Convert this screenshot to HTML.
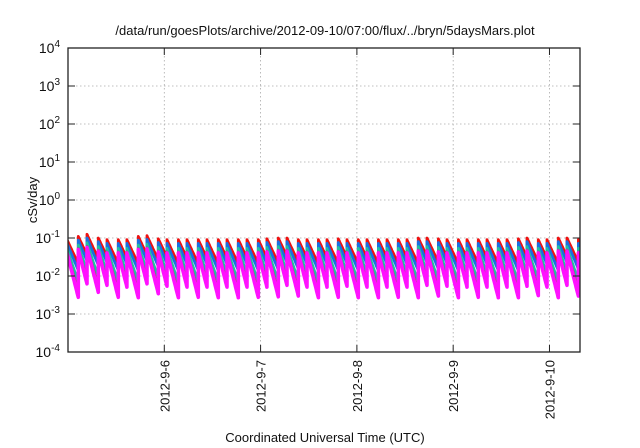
<!DOCTYPE html>
<html><head><meta charset="utf-8"><style>
html,body{margin:0;padding:0;background:#fff;}
svg{display:block;font-family:"Liberation Sans",sans-serif;}
</style></head><body>
<svg id="chart" width="640" height="448" viewBox="0 0 640 448" xmlns="http://www.w3.org/2000/svg">
<rect width="640" height="448" fill="#fff"/>
<text x="325" y="35" font-size="13" text-anchor="middle" fill="#111">/data/run/goesPlots/archive/2012-09-10/07:00/flux/../bryn/5daysMars.plot</text>
<text transform="translate(37,200) rotate(-90)" font-size="13" text-anchor="middle" fill="#111">cSv/day</text>
<text x="325" y="442" font-size="13" text-anchor="middle" fill="#111">Coordinated Universal Time (UTC)</text>
<g id="grid"></g>
<g id="series" clip-path="url(#clip)"></g>
<g id="axes"></g>
<defs><clipPath id="clip"><rect x="68" y="48" width="512" height="304"/></clipPath></defs>
</svg>
<script>
const yTickExps = [4,3,2,1,0,-1,-2,-3,-4];
const xTickDays = [1,2,3,4,5];
const xTickLabels = ["2012-9-6","2012-9-7","2012-9-8","2012-9-9","2012-9-10"];
const peakTimes = [-0.010,0.107,0.197,0.315,0.405,0.522,0.612,0.730,0.820,0.938,1.028,1.146,1.236,1.353,1.443,1.561,1.651,1.769,1.859,1.976,2.066,2.184,2.274,2.392,2.482,2.600,2.690,2.807,2.897,3.015,3.105,3.223,3.313,3.430,3.520,3.638,3.728,3.846,3.936,4.054,4.144,4.261,4.351,4.469,4.559,4.677,4.767,4.884,4.974,5.092,5.182,5.300];
const peakValues = [0.09,0.11,0.125,0.10,0.09,0.09,0.09,0.11,0.115,0.095,0.09,0.09,0.09,0.09,0.09,0.09,0.09,0.09,0.09,0.09,0.095,0.10,0.10,0.09,0.09,0.09,0.09,0.095,0.09,0.09,0.09,0.09,0.09,0.09,0.09,0.10,0.10,0.095,0.09,0.09,0.09,0.09,0.09,0.09,0.09,0.095,0.10,0.09,0.09,0.10,0.10,0.09];
const seriesNames = ["red","blue","teal","brown","yellow","magenta"];
const seriesColors = ["#ee1111","#1a6fe0","#20c0a0","#a05070","#eeee00","#ff10ff"];
const seriesRatio = [1.0,0.8,0.6,0.48,0.45,0.45];
const seriesDecay = [12.5,14,17.5,20.5,22,23];
const seriesWidth = [2.8,2.8,2.6,2.6,2.6,3.6];

const X0=68,X1=580,Y0=48,Y1=352,TMIN=0,TMAX=5.317;
const xs=t=>X0+(t-TMIN)/(TMAX-TMIN)*(X1-X0);
const ys=v=>Y1-(Math.log10(v)+4)/8*(Y1-Y0);
const NS="http://www.w3.org/2000/svg";
function mk(tag,attrs,parent){const e=document.createElementNS(NS,tag);for(const k in attrs)e.setAttribute(k,attrs[k]);parent.appendChild(e);return e;}
const grid=document.getElementById('grid'),axes=document.getElementById('axes'),ser=document.getElementById('series');

yTickExps.forEach(n=>{
  const y=ys(Math.pow(10,n));
  if(n<4&&n>-4){const g=mk('line',{x1:X0,x2:X1,y1:y,y2:y,stroke:'#aaa','stroke-width':0.8,'stroke-dasharray':'1.5,2.5'},grid);
  
  }
  mk('line',{x1:X0,x2:X0+7,y1:y,y2:y,stroke:'#222','stroke-width':1},axes);
  mk('line',{x1:X1-7,x2:X1,y1:y,y2:y,stroke:'#222','stroke-width':1},axes);
  const t=mk('text',{x:60,y:y+5,'font-size':14,'text-anchor':'end',fill:'#111'},axes);
  
  
  t.textContent='10';
  const s=mk('tspan',{dy:-6,'font-size':10},t); s.textContent=String(n);
});
xTickDays.forEach((d,i)=>{
  const x=xs(d);
  const g=mk('line',{x1:x,x2:x,y1:Y0,y2:Y1,stroke:'#aaa','stroke-width':0.8,'stroke-dasharray':'1.5,2.5'},grid);
  
  
  mk('line',{x1:x,x2:x,y1:Y1,y2:Y1-7,stroke:'#222','stroke-width':1},axes);
  mk('line',{x1:x,x2:x,y1:Y0,y2:Y0+7,stroke:'#222','stroke-width':1},axes);
  const t=mk('text',{transform:`translate(${x+5},360) rotate(-90)`,'font-size':13,'text-anchor':'end',fill:'#111'},axes);
  
  
  t.textContent=xTickLabels[i];
});
const frame=mk('rect',{x:X0,y:Y0,width:X1-X0,height:Y1-Y0,fill:'none',stroke:'#222','stroke-width':1.3},axes);



seriesNames.forEach((nm,s)=>{
  const pts=[];
  for(let i=0;i<peakTimes.length;i++){
    const tp=peakTimes[i], tn=i+1<peakTimes.length?peakTimes[i+1]:TMAX+0.05;
    const pv=peakValues[i]*seriesRatio[s];
    for(let t=tp;t<tn;t+=0.005){
      pts.push([xs(t),ys(pv*Math.exp(-seriesDecay[s]*(t-tp)))]);
    }
    pts.push([xs(tn),ys(pv*Math.exp(-seriesDecay[s]*(tn-tp)))]);
  }
  const p=mk('polyline',{points:pts.map(q=>q[0].toFixed(1)+','+q[1].toFixed(1)).join(' '),fill:'none',stroke:seriesColors[s],'stroke-width':seriesWidth[s],'stroke-linejoin':'round'},ser);
  
  
});
</script>
</body></html>
